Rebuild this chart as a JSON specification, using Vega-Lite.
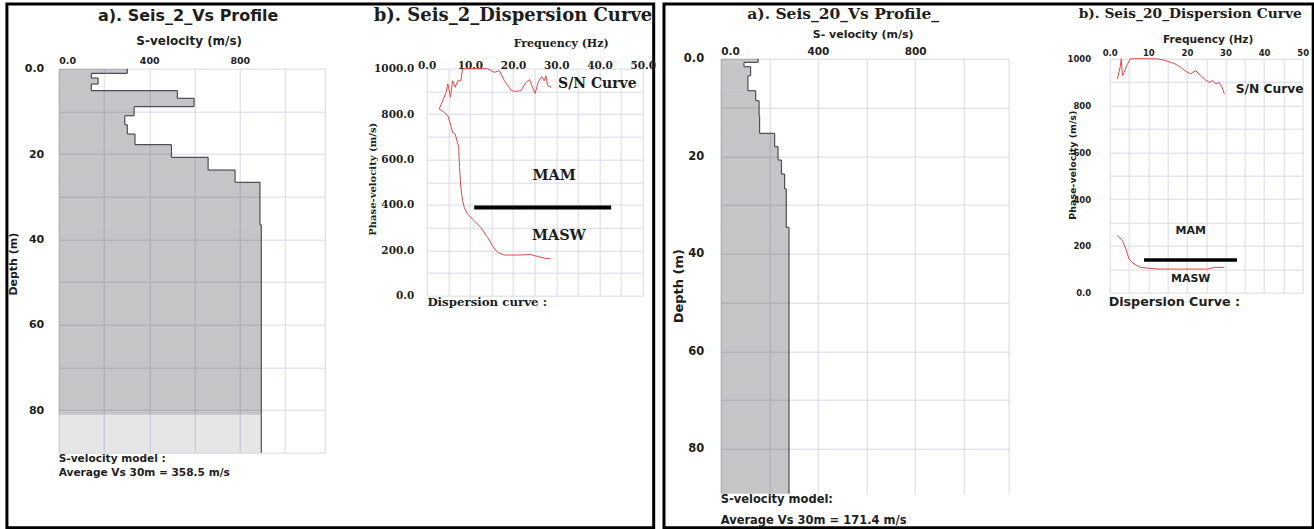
{
  "$schema": "https://vega.github.io/schema/vega-lite/v6.json",
  "padding": {"left": 4.7, "top": 1.7, "right": 0, "bottom": 0},
  "background": "white",
  "bounds": "flush",
  "spacing": 0,
  "config": {
    "view": {"stroke": null},
    "axis": {"ticks": false, "domain": false, "gridColor": "#d8d8e4", "gridWidth": 1, "labelColor": "#1e1e1e", "titleColor": "#1e1e1e", "labelFontWeight": "bold", "titleFontWeight": "bold", "labelOverlap": false, "labelBound": false, "tickCount": 100},
    "text": {"color": "#1e1e1e"}
  },
  "datasets": {
    "seis2_profile": [
      {"layer": 1, "top": 0, "bottom": 1.09, "vs": 303, "unit": "layer"},
      {"layer": 2, "top": 1.09, "bottom": 2.19, "vs": 144, "unit": "layer"},
      {"layer": 3, "top": 2.19, "bottom": 3.59, "vs": 174, "unit": "layer"},
      {"layer": 4, "top": 3.59, "bottom": 5.16, "vs": 144, "unit": "layer"},
      {"layer": 5, "top": 5.16, "bottom": 6.95, "vs": 524, "unit": "layer"},
      {"layer": 6, "top": 6.95, "bottom": 8.91, "vs": 598, "unit": "layer"},
      {"layer": 7, "top": 8.91, "bottom": 11.02, "vs": 333, "unit": "layer"},
      {"layer": 8, "top": 11.02, "bottom": 13.13, "vs": 292, "unit": "layer"},
      {"layer": 9, "top": 13.13, "bottom": 15.31, "vs": 303, "unit": "layer"},
      {"layer": 10, "top": 15.31, "bottom": 17.81, "vs": 337, "unit": "layer"},
      {"layer": 11, "top": 17.81, "bottom": 20.78, "vs": 498, "unit": "layer"},
      {"layer": 12, "top": 20.78, "bottom": 23.75, "vs": 660, "unit": "layer"},
      {"layer": 13, "top": 23.75, "bottom": 26.64, "vs": 779, "unit": "layer"},
      {"layer": 14, "top": 26.64, "bottom": 36.56, "vs": 889, "unit": "layer"},
      {"layer": 15, "top": 36.56, "bottom": 81.1, "vs": 895, "unit": "layer"},
      {"layer": 16, "top": 81.1, "bottom": 90, "vs": 895, "unit": "halfspace"}
    ],
    "seis20_profile": [
      {"layer": 1, "top": 0, "bottom": 0.75, "vs": 154},
      {"layer": 2, "top": 0.75, "bottom": 1.64, "vs": 96},
      {"layer": 3, "top": 1.64, "bottom": 3.49, "vs": 123},
      {"layer": 4, "top": 3.49, "bottom": 6.56, "vs": 112},
      {"layer": 5, "top": 6.56, "bottom": 8.61, "vs": 144},
      {"layer": 6, "top": 8.61, "bottom": 11.69, "vs": 158},
      {"layer": 7, "top": 11.69, "bottom": 15.31, "vs": 160},
      {"layer": 8, "top": 15.31, "bottom": 18.04, "vs": 222},
      {"layer": 9, "top": 18.04, "bottom": 20.78, "vs": 236},
      {"layer": 10, "top": 20.78, "bottom": 23.65, "vs": 250},
      {"layer": 11, "top": 23.65, "bottom": 26.73, "vs": 263},
      {"layer": 12, "top": 26.73, "bottom": 34.59, "vs": 270},
      {"layer": 13, "top": 34.59, "bottom": 89.2, "vs": 281}
    ],
    "seis2_curves": [
      {"series": "S/N", "idx": 1, "freq": 2.9, "vel": 822},
      {"series": "S/N", "idx": 2, "freq": 4.5, "vel": 896},
      {"series": "S/N", "idx": 3, "freq": 4.9, "vel": 933},
      {"series": "S/N", "idx": 4, "freq": 5.5, "vel": 874},
      {"series": "S/N", "idx": 5, "freq": 6.0, "vel": 947},
      {"series": "S/N", "idx": 6, "freq": 6.6, "vel": 918},
      {"series": "S/N", "idx": 7, "freq": 7.2, "vel": 947},
      {"series": "S/N", "idx": 8, "freq": 7.9, "vel": 947},
      {"series": "S/N", "idx": 9, "freq": 8.3, "vel": 1000},
      {"series": "S/N", "idx": 10, "freq": 14.1, "vel": 1000},
      {"series": "S/N", "idx": 11, "freq": 15.6, "vel": 984},
      {"series": "S/N", "idx": 12, "freq": 16.8, "vel": 991},
      {"series": "S/N", "idx": 13, "freq": 18.0, "vel": 947},
      {"series": "S/N", "idx": 14, "freq": 19.5, "vel": 906},
      {"series": "S/N", "idx": 15, "freq": 20.3, "vel": 900},
      {"series": "S/N", "idx": 16, "freq": 21.8, "vel": 903},
      {"series": "S/N", "idx": 17, "freq": 23.0, "vel": 940},
      {"series": "S/N", "idx": 18, "freq": 23.8, "vel": 952},
      {"series": "S/N", "idx": 19, "freq": 24.5, "vel": 918},
      {"series": "S/N", "idx": 20, "freq": 25.1, "vel": 891},
      {"series": "S/N", "idx": 21, "freq": 25.8, "vel": 940},
      {"series": "S/N", "idx": 22, "freq": 26.6, "vel": 965},
      {"series": "S/N", "idx": 23, "freq": 27.2, "vel": 947},
      {"series": "S/N", "idx": 24, "freq": 27.6, "vel": 969},
      {"series": "S/N", "idx": 25, "freq": 28.0, "vel": 925},
      {"series": "S/N", "idx": 26, "freq": 28.9, "vel": 918},
      {"series": "dispersion", "idx": 1, "freq": 2.9, "vel": 822},
      {"series": "dispersion", "idx": 2, "freq": 4.1, "vel": 807},
      {"series": "dispersion", "idx": 3, "freq": 4.9, "vel": 793},
      {"series": "dispersion", "idx": 4, "freq": 5.6, "vel": 749},
      {"series": "dispersion", "idx": 5, "freq": 6.0, "vel": 719},
      {"series": "dispersion", "idx": 6, "freq": 6.6, "vel": 712},
      {"series": "dispersion", "idx": 7, "freq": 7.0, "vel": 683},
      {"series": "dispersion", "idx": 8, "freq": 7.4, "vel": 653},
      {"series": "dispersion", "idx": 9, "freq": 7.6, "vel": 565},
      {"series": "dispersion", "idx": 10, "freq": 7.9, "vel": 477},
      {"series": "dispersion", "idx": 11, "freq": 8.3, "vel": 419},
      {"series": "dispersion", "idx": 12, "freq": 8.7, "vel": 389},
      {"series": "dispersion", "idx": 13, "freq": 9.4, "vel": 360},
      {"series": "dispersion", "idx": 14, "freq": 11.0, "vel": 330},
      {"series": "dispersion", "idx": 15, "freq": 12.5, "vel": 301},
      {"series": "dispersion", "idx": 16, "freq": 14.1, "vel": 257},
      {"series": "dispersion", "idx": 17, "freq": 15.2, "vel": 220},
      {"series": "dispersion", "idx": 18, "freq": 16.4, "vel": 191},
      {"series": "dispersion", "idx": 19, "freq": 17.9, "vel": 179},
      {"series": "dispersion", "idx": 20, "freq": 21.0, "vel": 179},
      {"series": "dispersion", "idx": 21, "freq": 24.1, "vel": 181},
      {"series": "dispersion", "idx": 22, "freq": 25.6, "vel": 173},
      {"series": "dispersion", "idx": 23, "freq": 27.2, "vel": 166},
      {"series": "dispersion", "idx": 24, "freq": 28.7, "vel": 162}
    ],
    "seis20_curves": [
      {"series": "S/N", "idx": 1, "freq": 2.0, "vel": 913},
      {"series": "S/N", "idx": 2, "freq": 2.7, "vel": 963},
      {"series": "S/N", "idx": 3, "freq": 3.0, "vel": 1000},
      {"series": "S/N", "idx": 4, "freq": 3.3, "vel": 927},
      {"series": "S/N", "idx": 5, "freq": 3.7, "vel": 941},
      {"series": "S/N", "idx": 6, "freq": 4.6, "vel": 977},
      {"series": "S/N", "idx": 7, "freq": 5.4, "vel": 1000},
      {"series": "S/N", "idx": 8, "freq": 8.0, "vel": 1000},
      {"series": "S/N", "idx": 9, "freq": 12.4, "vel": 999},
      {"series": "S/N", "idx": 10, "freq": 14.1, "vel": 994},
      {"series": "S/N", "idx": 11, "freq": 15.1, "vel": 988},
      {"series": "S/N", "idx": 12, "freq": 16.7, "vel": 980},
      {"series": "S/N", "idx": 13, "freq": 18.4, "vel": 963},
      {"series": "S/N", "idx": 14, "freq": 19.7, "vel": 946},
      {"series": "S/N", "idx": 15, "freq": 21.0, "vel": 935},
      {"series": "S/N", "idx": 16, "freq": 22.3, "vel": 949},
      {"series": "S/N", "idx": 17, "freq": 23.6, "vel": 927},
      {"series": "S/N", "idx": 18, "freq": 24.9, "vel": 909},
      {"series": "S/N", "idx": 19, "freq": 25.8, "vel": 899},
      {"series": "S/N", "idx": 20, "freq": 26.7, "vel": 906},
      {"series": "S/N", "idx": 21, "freq": 27.5, "vel": 892},
      {"series": "S/N", "idx": 22, "freq": 28.4, "vel": 899},
      {"series": "S/N", "idx": 23, "freq": 29.3, "vel": 870},
      {"series": "S/N", "idx": 24, "freq": 29.7, "vel": 849},
      {"series": "dispersion", "idx": 1, "freq": 2.0, "vel": 244},
      {"series": "dispersion", "idx": 2, "freq": 3.3, "vel": 222},
      {"series": "dispersion", "idx": 3, "freq": 4.2, "vel": 187},
      {"series": "dispersion", "idx": 4, "freq": 5.0, "vel": 144},
      {"series": "dispersion", "idx": 5, "freq": 6.3, "vel": 123},
      {"series": "dispersion", "idx": 6, "freq": 8.0, "vel": 108},
      {"series": "dispersion", "idx": 7, "freq": 12.4, "vel": 101},
      {"series": "dispersion", "idx": 8, "freq": 21.0, "vel": 101},
      {"series": "dispersion", "idx": 9, "freq": 25.4, "vel": 101},
      {"series": "dispersion", "idx": 10, "freq": 27.1, "vel": 108},
      {"series": "dispersion", "idx": 11, "freq": 29.7, "vel": 108}
    ],
    "seis2_boundary": [{"f_start": 11.0, "f_end": 42.7, "velocity": 389}],
    "seis20_boundary": [{"f_start": 8.9, "f_end": 33.0, "velocity": 140}]
  },
  "hconcat": [
    {
      "width": 266, "height": 384,
      "layer": [
        {
          "data": {"name": "seis2_profile"},
          "mark": {"type": "rect", "color": "#2e2e38"},
          "encoding": {
            "x": {"field": "vs", "type": "quantitative", "scale": {"domain": [0, 1175], "nice": false, "zero": false},
                  "axis": {"orient": "top", "values": [0, 200, 400, 600, 800, 1000, 1175], "tickCount": 100, "labelExpr": "datum.value == 0 ? '0.0' : (datum.value % 400 == 0 ? datum.label : '')", "grid": true, "labelOverlap": false, "labelFont": "DejaVu Sans", "labelFontSize": 9.5, "labelPadding": 3, "labelFlush": true, "title": "S-velocity (m/s)", "titleFont": "DejaVu Sans", "titleFontSize": 12, "titleX": 130, "titleY": -28, "titleBaseline": "middle"}},
            "x2": {"datum": 0},
            "y": {"field": "top", "type": "quantitative", "scale": {"domain": [0, 90], "nice": false, "zero": false, "reverse": true},
                  "axis": {"values": [0, 10, 20, 30, 40, 50, 60, 70, 80, 90], "tickCount": 100, "labelExpr": "datum.value == 0 ? '0.0' : (datum.value % 20 == 0 ? datum.label : '')", "grid": true, "labelOverlap": false, "labelFont": "DejaVu Sans", "labelFontSize": 11, "labelPadding": 15, "title": "Depth (m)", "titleFont": "DejaVu Sans", "titleFontSize": 11, "titleX": -45, "titleY": 195, "titleBaseline": "middle"}},
            "y2": {"field": "bottom"},
            "opacity": {"field": "unit", "type": "nominal", "scale": {"domain": ["layer", "halfspace"], "range": [0.28, 0.12]}, "legend": null}
          }
        },
        {
          "data": {"name": "seis2_profile"},
          "mark": {"type": "rule", "color": "#4d4d55", "strokeWidth": 1.2},
          "encoding": {
            "x": {"field": "vs", "type": "quantitative", "scale": {"domain": [0, 1175], "nice": false, "zero": false}},
            "y": {"field": "top", "type": "quantitative", "scale": {"domain": [0, 90], "nice": false, "zero": false, "reverse": true}},
            "y2": {"field": "bottom"}
          }
        },
        {
          "data": {"name": "seis2_profile"},
          "transform": [
            {"window": [{"op": "lead", "field": "vs", "as": "vs_next"}], "sort": [{"field": "layer", "order": "ascending"}]},
            {"filter": "isValid(datum.vs_next)"}
          ],
          "mark": {"type": "rule", "color": "#4d4d55", "strokeWidth": 1.2},
          "encoding": {
            "x": {"field": "vs", "type": "quantitative", "scale": {"domain": [0, 1175], "nice": false, "zero": false}},
            "x2": {"field": "vs_next"},
            "y": {"field": "bottom", "type": "quantitative", "scale": {"domain": [0, 90], "nice": false, "zero": false, "reverse": true}}
          }
        },
        {
          "data": {"values": [{}]},
          "mark": {"type": "rect", "filled": false, "stroke": "#000000", "strokeWidth": 3},
          "encoding": {
            "x": {"datum": -228.8, "type": "quantitative", "scale": {"domain": [0, 1175], "nice": false, "zero": false}},
            "x2": {"datum": 2628.3},
            "y": {"datum": -15.19, "type": "quantitative", "scale": {"domain": [0, 90], "nice": false, "zero": false, "reverse": true}},
            "y2": {"datum": 107.58}
          }
        },
        {
          "data": {"values": [{}]},
          "mark": {"type": "text", "text": "a). Seis_2_Vs Profile", "font": "DejaVu Sans", "fontSize": 16, "fontWeight": "bold", "align": "center", "baseline": "middle"},
          "encoding": {
            "x": {"datum": 572, "type": "quantitative", "scale": {"domain": [0, 1175], "nice": false, "zero": false}},
            "y": {"datum": -12.42, "type": "quantitative", "scale": {"domain": [0, 90], "nice": false, "zero": false, "reverse": true}}
          }
        },
        {
          "data": {"values": [{}]},
          "mark": {"type": "text", "text": "S-velocity model :", "font": "DejaVu Sans", "fontSize": 10.6, "fontWeight": "bold", "align": "left", "baseline": "middle"},
          "encoding": {
            "x": {"datum": 0, "type": "quantitative", "scale": {"domain": [0, 1175], "nice": false, "zero": false}},
            "y": {"datum": 91.47, "type": "quantitative", "scale": {"domain": [0, 90], "nice": false, "zero": false, "reverse": true}}
          }
        },
        {
          "data": {"values": [{}]},
          "mark": {"type": "text", "text": "Average Vs 30m = 358.5 m/s", "font": "DejaVu Sans", "fontSize": 10.6, "fontWeight": "bold", "align": "left", "baseline": "middle"},
          "encoding": {
            "x": {"datum": 0, "type": "quantitative", "scale": {"domain": [0, 1175], "nice": false, "zero": false}},
            "y": {"datum": 94.76, "type": "quantitative", "scale": {"domain": [0, 90], "nice": false, "zero": false, "reverse": true}}
          }
        }
      ]
    },
    {"width": 102, "height": 1, "data": {"values": []}, "mark": "point"},
    {
      "width": 216, "height": 227,
      "layer": [
        {
          "data": {"name": "seis2_curves"},
          "mark": {"type": "line", "color": "#e04848", "strokeWidth": 1},
          "encoding": {
            "x": {"field": "freq", "type": "quantitative", "scale": {"domain": [0, 50], "nice": false, "zero": false},
                  "axis": {"orient": "top", "values": [0, 5, 10, 15, 20, 25, 30, 35, 40, 45, 50], "tickCount": 100, "labelExpr": "datum.value % 10 == 0 ? format(datum.value, '.1f') : ''", "grid": true, "labelOverlap": false, "gridColor": "#dadae6", "labelFont": "DejaVu Serif", "labelFontSize": 10.5, "labelPadding": -2, "labelFlush": false, "title": "Frequency (Hz)", "titleFont": "DejaVu Serif", "titleFontSize": 11, "titleX": 134, "titleY": -25, "titleBaseline": "middle"}},
            "y": {"field": "vel", "type": "quantitative", "scale": {"domain": [0, 1000], "nice": false, "zero": false},
                  "axis": {"values": [0, 100, 200, 300, 400, 500, 600, 700, 800, 900, 1000], "tickCount": 100, "labelExpr": "datum.value % 200 == 0 ? format(datum.value, '.1f') : ''", "grid": true, "labelOverlap": false, "gridColor": "#dadae6", "labelFont": "DejaVu Serif", "labelFontSize": 10.5, "labelPadding": 13, "title": "Phase-velocity (m/s)", "titleFont": "DejaVu Serif", "titleFontSize": 10, "titleX": -54, "titleY": 110, "titleBaseline": "middle"}},
            "detail": {"field": "series", "type": "nominal"},
            "order": {"field": "idx", "type": "quantitative"}
          }
        },
        {
          "data": {"name": "seis2_boundary"},
          "mark": {"type": "rule", "color": "#000000", "strokeWidth": 4},
          "encoding": {
            "x": {"field": "f_start", "type": "quantitative", "scale": {"domain": [0, 50], "nice": false, "zero": false}},
            "x2": {"field": "f_end"},
            "y": {"field": "velocity", "type": "quantitative", "scale": {"domain": [0, 1000], "nice": false, "zero": false}}
          }
        },
        {
          "data": {"values": [{}]},
          "mark": {"type": "text", "text": "b). Seis_2_Dispersion Curve", "font": "DejaVu Serif", "fontSize": 18, "fontWeight": "bold", "align": "left", "baseline": "middle"},
          "encoding": {
            "x": {"datum": -12.27, "type": "quantitative", "scale": {"domain": [0, 50], "nice": false, "zero": false}},
            "y": {"datum": 1231, "type": "quantitative", "scale": {"domain": [0, 1000], "nice": false, "zero": false}}
          }
        },
        {
          "data": {"values": [{}]},
          "mark": {"type": "text", "text": "S/N Curve", "font": "DejaVu Serif", "fontSize": 14, "fontWeight": "bold", "align": "center", "baseline": "middle"},
          "encoding": {
            "x": {"datum": 39.5, "type": "quantitative", "scale": {"domain": [0, 50], "nice": false, "zero": false}},
            "y": {"datum": 933, "type": "quantitative", "scale": {"domain": [0, 1000], "nice": false, "zero": false}}
          }
        },
        {
          "data": {"values": [{}]},
          "mark": {"type": "text", "text": "MAM", "font": "DejaVu Serif", "fontSize": 14.5, "fontWeight": "bold", "align": "center", "baseline": "middle"},
          "encoding": {
            "x": {"datum": 29.5, "type": "quantitative", "scale": {"domain": [0, 50], "nice": false, "zero": false}},
            "y": {"datum": 529, "type": "quantitative", "scale": {"domain": [0, 1000], "nice": false, "zero": false}}
          }
        },
        {
          "data": {"values": [{}]},
          "mark": {"type": "text", "text": "MASW", "font": "DejaVu Serif", "fontSize": 14.5, "fontWeight": "bold", "align": "center", "baseline": "middle"},
          "encoding": {
            "x": {"datum": 30.6, "type": "quantitative", "scale": {"domain": [0, 50], "nice": false, "zero": false}},
            "y": {"datum": 264, "type": "quantitative", "scale": {"domain": [0, 1000], "nice": false, "zero": false}}
          }
        },
        {
          "data": {"values": [{}]},
          "mark": {"type": "text", "text": "Dispersion curve :", "font": "DejaVu Serif", "fontSize": 11.8, "fontWeight": "bold", "align": "left", "baseline": "middle"},
          "encoding": {
            "x": {"datum": 0.16, "type": "quantitative", "scale": {"domain": [0, 50], "nice": false, "zero": false}},
            "y": {"datum": -29.5, "type": "quantitative", "scale": {"domain": [0, 1000], "nice": false, "zero": false}}
          }
        }
      ]
    },
    {"width": 78, "height": 1, "data": {"values": []}, "mark": "point"},
    {
      "width": 288, "height": 425,
      "layer": [
        {
          "data": {"name": "seis20_profile"},
          "mark": {"type": "rect", "color": "#2e2e38", "opacity": 0.28},
          "encoding": {
            "x": {"field": "vs", "type": "quantitative", "scale": {"domain": [0, 1185], "nice": false, "zero": false},
                  "axis": {"orient": "top", "offset": 10, "values": [0, 200, 400, 600, 800, 1000, 1185], "tickCount": 100, "labelExpr": "datum.value == 0 ? '0.0' : (datum.value % 400 == 0 ? datum.label : '')", "grid": true, "labelOverlap": false, "labelFont": "DejaVu Sans", "labelFontSize": 10.5, "labelPadding": 2, "labelFlush": true, "title": "S- velocity (m/s)", "titleFont": "DejaVu Sans", "titleFontSize": 11, "titleX": 142, "titleY": -23.7, "titleBaseline": "middle"}},
            "x2": {"datum": 0},
            "y": {"field": "top", "type": "quantitative", "scale": {"domain": [0, 89.2], "range": [-10, 425], "nice": false, "zero": false},
                  "axis": {"values": [0, 10, 20, 30, 40, 50, 60, 70, 80], "tickCount": 100, "labelExpr": "datum.value == 0 ? '0.0' : (datum.value % 20 == 0 ? datum.label : '')", "grid": true, "labelOverlap": false, "labelFont": "DejaVu Sans", "labelFontSize": 11.5, "labelPadding": 17, "title": "Depth (m)", "titleFont": "DejaVu Sans", "titleFontSize": 13, "titleX": -42, "titleY": 217, "titleBaseline": "middle"}},
            "y2": {"field": "bottom"}
          }
        },
        {
          "data": {"name": "seis20_profile"},
          "mark": {"type": "rule", "color": "#4d4d55", "strokeWidth": 1.2},
          "encoding": {
            "x": {"field": "vs", "type": "quantitative", "scale": {"domain": [0, 1185], "nice": false, "zero": false}},
            "y": {"field": "top", "type": "quantitative", "scale": {"domain": [0, 89.2], "range": [-10, 425], "nice": false, "zero": false}},
            "y2": {"field": "bottom"}
          }
        },
        {
          "data": {"name": "seis20_profile"},
          "transform": [
            {"window": [{"op": "lead", "field": "vs", "as": "vs_next"}], "sort": [{"field": "layer", "order": "ascending"}]},
            {"filter": "isValid(datum.vs_next)"}
          ],
          "mark": {"type": "rule", "color": "#4d4d55", "strokeWidth": 1.2},
          "encoding": {
            "x": {"field": "vs", "type": "quantitative", "scale": {"domain": [0, 1185], "nice": false, "zero": false}},
            "x2": {"field": "vs_next"},
            "y": {"field": "bottom", "type": "quantitative", "scale": {"domain": [0, 89.2], "range": [-10, 425], "nice": false, "zero": false}}
          }
        },
        {
          "data": {"values": [{}]},
          "mark": {"type": "rect", "filled": false, "stroke": "#000000", "strokeWidth": 3},
          "encoding": {
            "x": {"datum": -233.3, "type": "quantitative", "scale": {"domain": [0, 1185], "nice": false, "zero": false}},
            "x2": {"datum": 2437.9},
            "y": {"datum": -11.22, "type": "quantitative", "scale": {"domain": [0, 89.2], "range": [-10, 425], "nice": false, "zero": false}},
            "y2": {"datum": 96.17}
          }
        },
        {
          "data": {"values": [{}]},
          "mark": {"type": "text", "text": "a). Seis_20_Vs Profile_", "font": "DejaVu Serif", "fontSize": 15.5, "fontWeight": "bold", "align": "center", "baseline": "middle"},
          "encoding": {
            "x": {"datum": 504, "type": "quantitative", "scale": {"domain": [0, 1185], "nice": false, "zero": false}},
            "y": {"datum": -9.17, "type": "quantitative", "scale": {"domain": [0, 89.2], "range": [-10, 425], "nice": false, "zero": false}}
          }
        },
        {
          "data": {"values": [{}]},
          "mark": {"type": "text", "text": "S-velocity model:", "font": "DejaVu Sans", "fontSize": 11.5, "fontWeight": "bold", "align": "left", "baseline": "middle"},
          "encoding": {
            "x": {"datum": 0, "type": "quantitative", "scale": {"domain": [0, 1185], "nice": false, "zero": false}},
            "y": {"datum": 90.43, "type": "quantitative", "scale": {"domain": [0, 89.2], "range": [-10, 425], "nice": false, "zero": false}}
          }
        },
        {
          "data": {"values": [{}]},
          "mark": {"type": "text", "text": "Average Vs 30m = 171.4 m/s", "font": "DejaVu Sans", "fontSize": 11.5, "fontWeight": "bold", "align": "left", "baseline": "middle"},
          "encoding": {
            "x": {"datum": 0, "type": "quantitative", "scale": {"domain": [0, 1185], "nice": false, "zero": false}},
            "y": {"datum": 94.74, "type": "quantitative", "scale": {"domain": [0, 89.2], "range": [-10, 425], "nice": false, "zero": false}}
          }
        }
      ]
    },
    {"width": 101, "height": 1, "data": {"values": []}, "mark": "point"},
    {
      "width": 193, "height": 224,
      "layer": [
        {
          "data": {"name": "seis20_curves"},
          "mark": {"type": "line", "color": "#e04848", "strokeWidth": 1},
          "encoding": {
            "x": {"field": "freq", "type": "quantitative", "scale": {"domain": [0, 50], "nice": false, "zero": false},
                  "axis": {"orient": "top", "offset": 10, "values": [0, 5, 10, 15, 20, 25, 30, 35, 40, 45, 50], "tickCount": 100, "labelExpr": "datum.value == 0 ? '0.0' : (datum.value % 10 == 0 ? format(datum.value, 'd') : '')", "grid": true, "labelOverlap": false, "gridColor": "#dadae6", "labelFont": "DejaVu Sans", "labelFontSize": 8.5, "labelPadding": 1, "labelFlush": false, "title": "Frequency (Hz)", "titleFont": "DejaVu Sans", "titleFontSize": 10.6, "titleX": 98, "titleY": -18.7, "titleBaseline": "middle"}},
            "y": {"field": "vel", "type": "quantitative", "scale": {"domain": [0, 1000], "range": [224, -10], "nice": false, "zero": false},
                  "axis": {"values": [0, 100, 200, 300, 400, 500, 600, 700, 800, 900, 1000], "tickCount": 100, "labelExpr": "datum.value == 0 ? '0.0' : (datum.value % 200 == 0 ? format(datum.value, 'd') : '')", "grid": true, "labelOverlap": false, "gridColor": "#dadae6", "labelFont": "DejaVu Sans", "labelFontSize": 8.5, "labelPadding": 19, "title": "Phase-velocity (m/s)", "titleFont": "DejaVu Sans", "titleFontSize": 9.5, "titleX": -37, "titleY": 96, "titleBaseline": "middle"}},
            "detail": {"field": "series", "type": "nominal"},
            "order": {"field": "idx", "type": "quantitative"}
          }
        },
        {
          "data": {"name": "seis20_boundary"},
          "mark": {"type": "rule", "color": "#000000", "strokeWidth": 3.5},
          "encoding": {
            "x": {"field": "f_start", "type": "quantitative", "scale": {"domain": [0, 50], "nice": false, "zero": false}},
            "x2": {"field": "f_end"},
            "y": {"field": "velocity", "type": "quantitative", "scale": {"domain": [0, 1000], "range": [224, -10], "nice": false, "zero": false}}
          }
        },
        {
          "data": {"values": [{}]},
          "mark": {"type": "text", "text": "b). Seis_20_Dispersion Curve", "font": "DejaVu Serif", "fontSize": 13.8, "fontWeight": "bold", "align": "center", "baseline": "middle"},
          "encoding": {
            "x": {"datum": 20.85, "type": "quantitative", "scale": {"domain": [0, 50], "nice": false, "zero": false}},
            "y": {"datum": 1191, "type": "quantitative", "scale": {"domain": [0, 1000], "range": [224, -10], "nice": false, "zero": false}}
          }
        },
        {
          "data": {"values": [{}]},
          "mark": {"type": "text", "text": "S/N Curve", "font": "DejaVu Sans", "fontSize": 12.3, "fontWeight": "bold", "align": "center", "baseline": "middle"},
          "encoding": {
            "x": {"datum": 41.45, "type": "quantitative", "scale": {"domain": [0, 50], "nice": false, "zero": false}},
            "y": {"datum": 870.5, "type": "quantitative", "scale": {"domain": [0, 1000], "range": [224, -10], "nice": false, "zero": false}}
          }
        },
        {
          "data": {"values": [{}]},
          "mark": {"type": "text", "text": "MAM", "font": "DejaVu Sans", "fontSize": 11, "fontWeight": "bold", "align": "center", "baseline": "middle"},
          "encoding": {
            "x": {"datum": 21.0, "type": "quantitative", "scale": {"domain": [0, 50], "nice": false, "zero": false}},
            "y": {"datum": 262, "type": "quantitative", "scale": {"domain": [0, 1000], "range": [224, -10], "nice": false, "zero": false}}
          }
        },
        {
          "data": {"values": [{}]},
          "mark": {"type": "text", "text": "MASW", "font": "DejaVu Sans", "fontSize": 11, "fontWeight": "bold", "align": "center", "baseline": "middle"},
          "encoding": {
            "x": {"datum": 21.0, "type": "quantitative", "scale": {"domain": [0, 50], "nice": false, "zero": false}},
            "y": {"datum": 59.8, "type": "quantitative", "scale": {"domain": [0, 1000], "range": [224, -10], "nice": false, "zero": false}}
          }
        },
        {
          "data": {"values": [{}]},
          "mark": {"type": "text", "text": "Dispersion Curve :", "font": "DejaVu Sans", "fontSize": 12.7, "fontWeight": "bold", "align": "left", "baseline": "middle"},
          "encoding": {
            "x": {"datum": -0.26, "type": "quantitative", "scale": {"domain": [0, 50], "nice": false, "zero": false}},
            "y": {"datum": -41.5, "type": "quantitative", "scale": {"domain": [0, 1000], "range": [224, -10], "nice": false, "zero": false}}
          }
        }
      ]
    }
  ]
}
